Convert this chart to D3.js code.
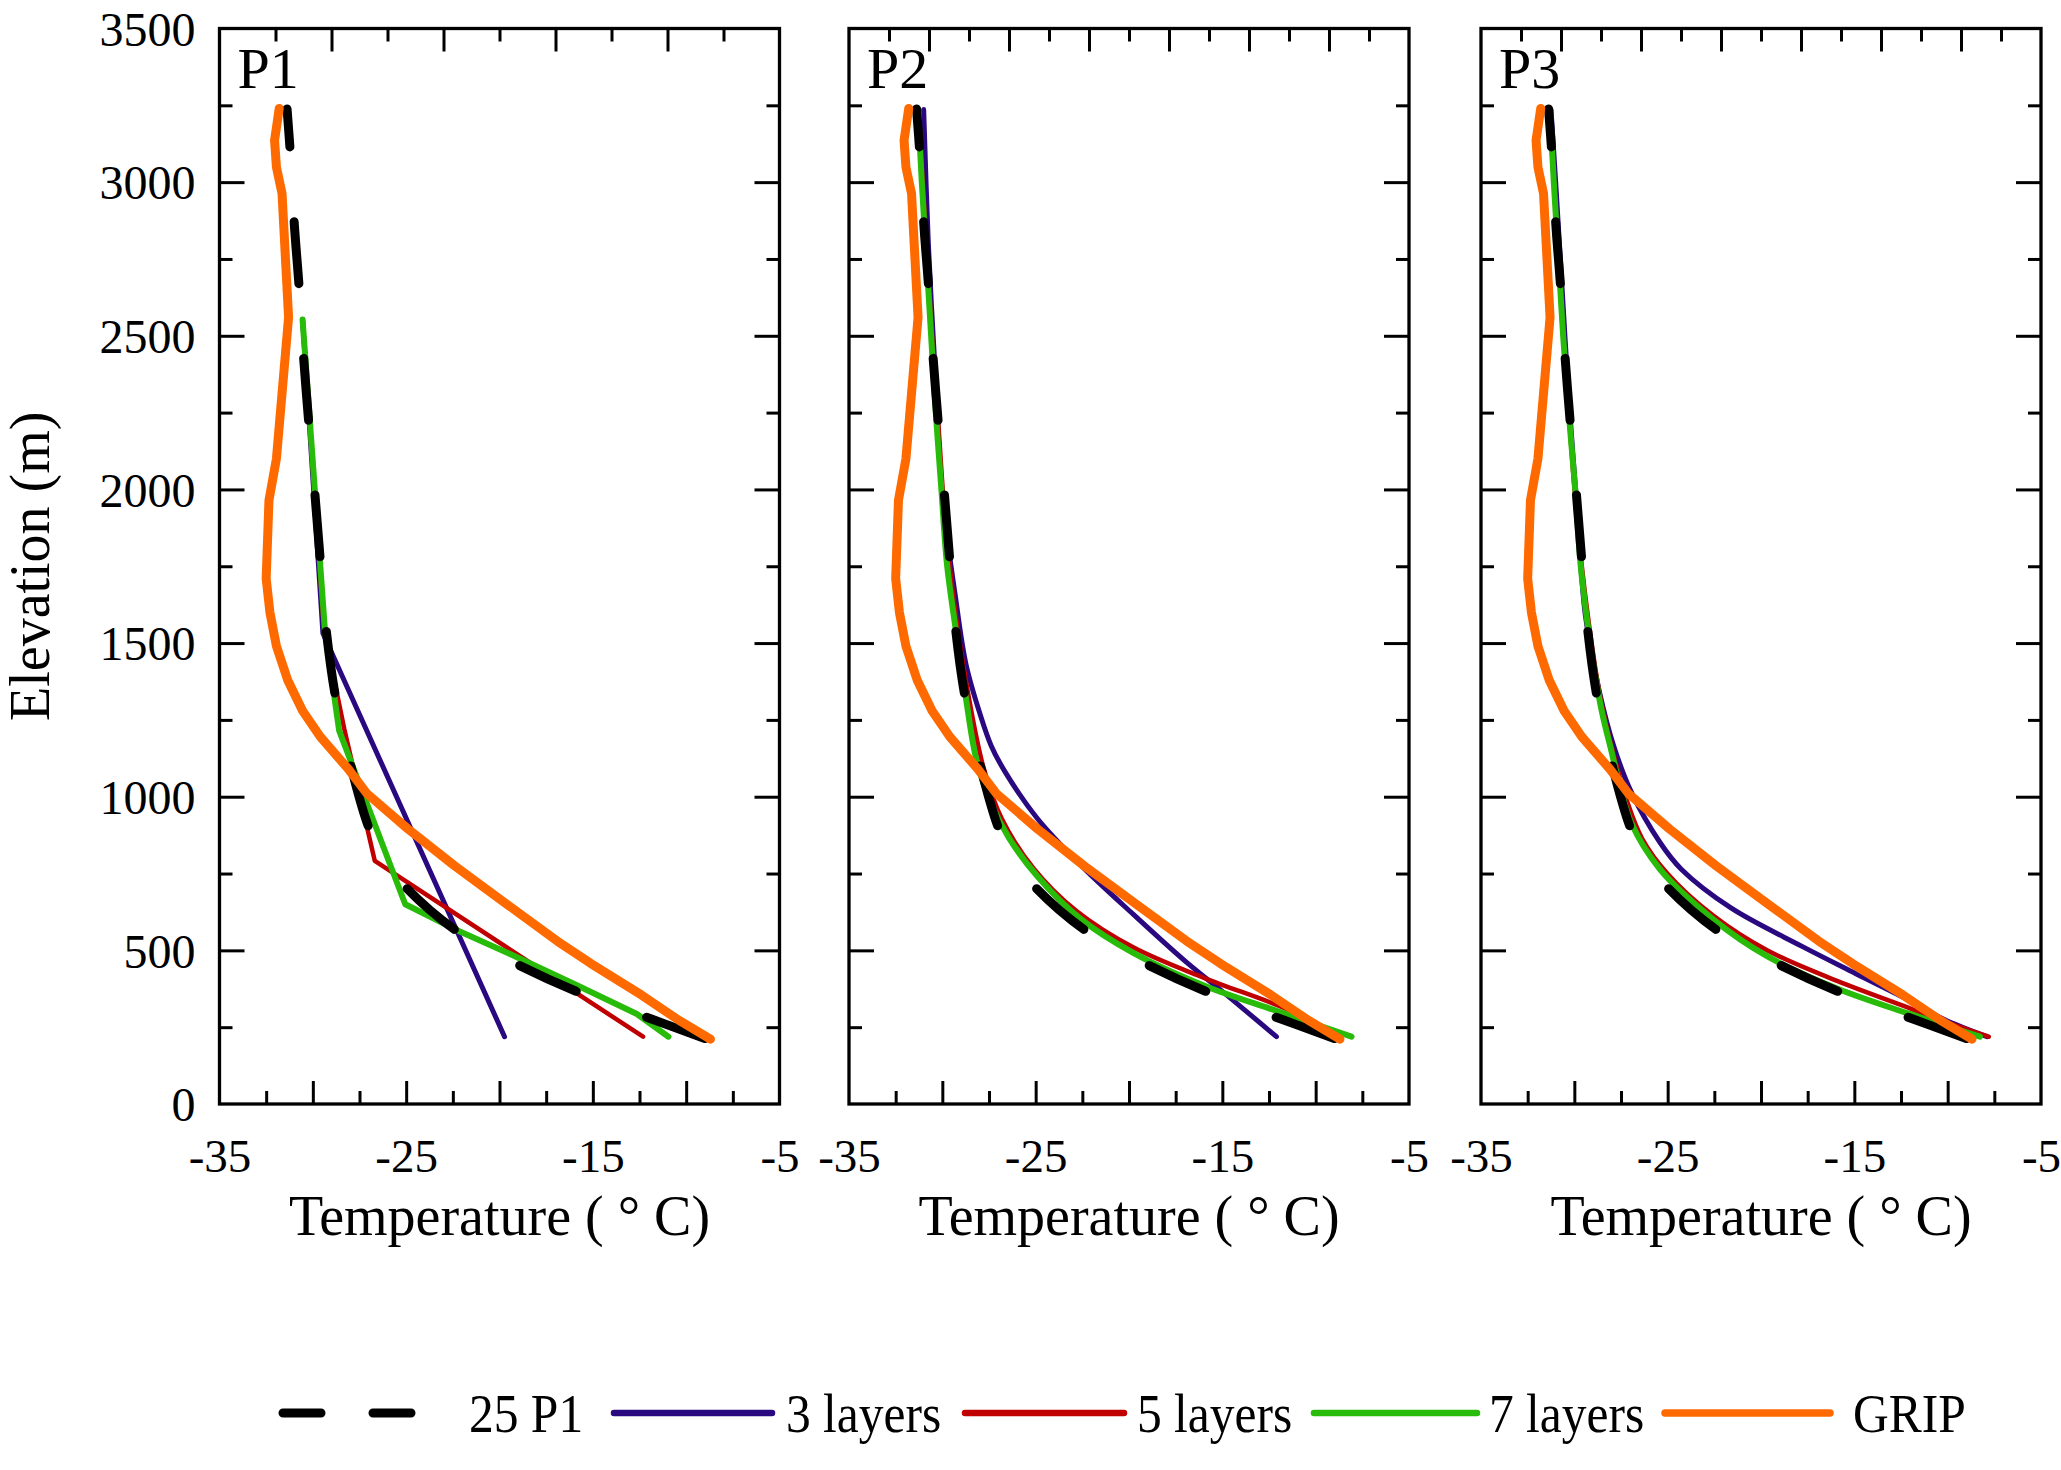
<!DOCTYPE html>
<html>
<head>
<meta charset="utf-8">
<script src="https://cdn.jsdelivr.net/npm/d3@7"></script>
<style>
  body { margin: 0; background: #fff; }
  svg { display: block; }
  text { font-family: "Liberation Serif", "Times New Roman", serif; fill: #000; }
</style>
</head>
<body>
<div id="chart"></div>
<script>
// ---- data (temperature in deg C, elevation in m) ----
const panelNames = ["P1", "P2", "P3"];
const tempTickLabels = [-35, -25, -15, -5];
const elevTickLabels = [0, 500, 1000, 1500, 2000, 2500, 3000, 3500];
const topTickDivisions = [10, 14, 14];
const seriesNames = ["25 P1", "3 layers", "5 layers", "7 layers", "GRIP"];

// reference run, same in every panel
const p25Profile = [
  [-9.0, 213], [-12.6, 293], [-15.9, 367], [-19.3, 462], [-22.3, 563],
  [-25.2, 717], [-26.3, 810], [-27.0, 899], [-28.05, 1121], [-28.78, 1323],
  [-29.3, 1552], [-29.6, 1769], [-29.9, 1993], [-30.2, 2204], [-30.5, 2434],
  [-30.72, 2646], [-31.0, 2870], [-31.2, 3088], [-31.38, 3238]
];

// GRIP observations, same in every panel
const gripProfile = [
  [-8.7, 211], [-10.4, 273], [-12.4, 355], [-15.1, 457], [-16.9, 530],
  [-19.6, 650], [-22.4, 775], [-24.9, 895], [-27.1, 1010], [-28.1, 1090],
  [-29.6, 1195], [-30.55, 1280], [-31.35, 1380], [-31.95, 1490], [-32.3, 1600],
  [-32.5, 1710], [-32.35, 1965], [-31.95, 2100], [-31.3, 2560], [-31.65, 2963],
  [-31.95, 3049], [-32.05, 3136], [-31.8, 3240]
];

const threeLayersP1 = [[-19.73, 219], [-29.46, 1532], [-30.55, 2553]];
const fiveLayersP1 = [[-12.31, 219], [-26.68, 791], [-28.32, 1222], [-29.4, 1540], [-30.55, 2553]];
const sevenLayersP1 = [
  [-10.95, 219], [-12.64, 293], [-15.91, 388], [-19.46, 489], [-22.18, 563],
  [-25.05, 650], [-28.59, 1215], [-29.35, 1540], [-30.55, 2553]
];

const threeLayersP2 = [
  [-12.1, 219], [-14.97, 365], [-16.88, 459], [-19.75, 616], [-22.61, 779],
  [-24.91, 929], [-26.63, 1080], [-27.39, 1167], [-27.97, 1267], [-28.73, 1430],
  [-29.31, 1656], [-29.98, 1969], [-30.4, 2400], [-30.75, 2800], [-31.0, 3236]
];
const fiveLayersP2 = [
  [-8.8, 219], [-11.33, 303], [-15.92, 409], [-19.75, 509], [-22.81, 628],
  [-25.1, 766], [-26.82, 929], [-27.78, 1092], [-28.6, 1330], [-29.3, 1600],
  [-29.85, 1900], [-30.2, 2200], [-30.55, 2500], [-30.85, 2800], [-31.15, 3100], [-31.3, 3236]
];
const sevenLayersP2 = [
  [-8.08, 219], [-12.1, 303], [-15.92, 384], [-19.75, 491], [-22.61, 603],
  [-24.91, 741], [-26.44, 867], [-27.39, 979], [-28.16, 1117], [-28.73, 1318],
  [-29.31, 1556], [-29.75, 1756], [-30.05, 2000], [-30.35, 2250], [-30.6, 2500],
  [-30.85, 2750], [-31.1, 3000], [-31.3, 3236]
];

const threeLayersP3 = [
  [-7.89, 219], [-10.18, 275], [-12.08, 338], [-14.94, 425], [-17.8, 513],
  [-21.61, 638], [-24.27, 764], [-25.41, 851], [-26.94, 1014], [-27.89, 1165],
  [-28.65, 1340], [-29.41, 1591], [-29.89, 1967], [-30.3, 2300], [-30.7, 2700],
  [-31.0, 3000], [-31.25, 3236]
];
const fiveLayersP3 = [
  [-7.8, 219], [-10.18, 269], [-12.08, 313], [-15.89, 400], [-19.7, 501],
  [-22.56, 613], [-25.03, 751], [-26.37, 864], [-27.2, 990], [-27.95, 1150],
  [-28.6, 1320], [-29.3, 1600], [-29.85, 1900], [-30.3, 2250], [-30.65, 2550],
  [-30.95, 2850], [-31.2, 3100], [-31.3, 3236]
];
const sevenLayersP3 = [
  [-8.27, 219], [-12.08, 294], [-15.89, 375], [-19.7, 482], [-22.56, 601],
  [-25.41, 764], [-26.94, 914], [-28.08, 1165], [-28.65, 1315], [-29.6, 1716],
  [-29.95, 2000], [-30.3, 2250], [-30.6, 2500], [-30.85, 2750], [-31.1, 3000], [-31.3, 3236]
];

const threeLayers = [threeLayersP1, threeLayersP2, threeLayersP3];
const fiveLayers = [fiveLayersP1, fiveLayersP2, fiveLayersP3];
const sevenLayers = [sevenLayersP1, sevenLayersP2, sevenLayersP3];

// ---- layout ----
const width = 2061, height = 1470;
const panelLeft = [219.5, 849, 1481];
const panelW = 560;
const plotTop = 28.5, plotBottom = 1104;

const colors = {
  "25 P1": "#000000",
  "3 layers": "#2a0880",
  "5 layers": "#c00000",
  "7 layers": "#28bb0a",
  "GRIP": "#ff6a00"
};
const widths = { "25 P1": 9, "3 layers": 5, "5 layers": 4.5, "7 layers": 6, "GRIP": 9 };

const svg = d3.select("#chart")
  .append("svg")
  .attr("width", width)
  .attr("height", height);

const y = d3.scaleLinear().domain([0, 3500]).range([plotBottom, plotTop]);
const x = d3.scaleLinear().domain([-35, -5]).range([0, panelW]);

const majorT = d3.range(-30, -5, 5);
const minorT = d3.range(-32.5, -5, 5);
const majorE = d3.range(500, 3500, 500);
const minorE = d3.range(250, 3500, 500);

// plain hyphen, no thousands separator
const plain = d => String(d);

function tickAxis(sel, axis) {
  sel.call(axis);
  sel.select(".domain").remove();
  sel.selectAll(".tick line").attr("stroke", "#000").attr("stroke-width", 3);
}

panelNames.forEach((name, i) => {
  const g = svg.append("g").attr("transform", `translate(${panelLeft[i]},0)`);

  // bottom ticks
  g.append("g").attr("transform", `translate(0,${plotBottom})`)
    .call(tickAxis, d3.axisBottom(x).tickValues(majorT).tickSize(-23).tickFormat(""));
  g.append("g").attr("transform", `translate(0,${plotBottom})`)
    .call(tickAxis, d3.axisBottom(x).tickValues(minorT).tickSize(-13).tickFormat(""));

  // bottom labels
  const xl = g.append("g").attr("transform", `translate(0,${plotBottom})`)
    .call(d3.axisBottom(x).tickValues(tempTickLabels).tickSize(0).tickFormat(plain));
  xl.select(".domain").remove();
  xl.selectAll("text").attr("y", 68).attr("dy", null).style("font-size", "47px");

  // top ticks (secondary scale)
  const n = topTickDivisions[i];
  const xt = d3.scaleLinear().domain([0, n]).range([0, panelW]);
  const topVals = d3.range(1, n);
  g.append("g").attr("transform", `translate(0,${plotTop})`)
    .call(tickAxis, d3.axisTop(xt).tickValues(topVals.filter(v => v % 2 === 0)).tickSize(-23).tickFormat(""));
  g.append("g").attr("transform", `translate(0,${plotTop})`)
    .call(tickAxis, d3.axisTop(xt).tickValues(topVals.filter(v => v % 2 === 1)).tickSize(-13).tickFormat(""));

  // left / right ticks
  g.append("g").call(tickAxis, d3.axisLeft(y).tickValues(majorE).tickSize(-25).tickFormat(""));
  g.append("g").call(tickAxis, d3.axisLeft(y).tickValues(minorE).tickSize(-13).tickFormat(""));
  g.append("g").attr("transform", `translate(${panelW},0)`)
    .call(tickAxis, d3.axisRight(y).tickValues(majorE).tickSize(-25).tickFormat(""));
  g.append("g").attr("transform", `translate(${panelW},0)`)
    .call(tickAxis, d3.axisRight(y).tickValues(minorE).tickSize(-13).tickFormat(""));

  if (i === 0) {
    const yl = g.append("g")
      .call(d3.axisLeft(y).tickValues(elevTickLabels).tickSize(0).tickPadding(24).tickFormat(plain));
    yl.select(".domain").remove();
    yl.selectAll("text").attr("dy", "0.35em").style("font-size", "48px");
  }

  const line = d3.line().x(d => x(d[0])).y(d => y(d[1]));
  const smooth = d3.line().x(d => x(d[0])).y(d => y(d[1])).curve(d3.curveCatmullRom.alpha(0.5));
  const modelLine = i === 0 ? line : smooth;

  const series = [
    ["3 layers", threeLayers[i], modelLine],
    ["5 layers", fiveLayers[i], modelLine],
    ["7 layers", sevenLayers[i], modelLine]
  ];
  series.forEach(([key, data, gen]) => {
    g.append("path")
      .datum(data)
      .attr("d", gen)
      .attr("fill", "none")
      .attr("stroke", colors[key])
      .attr("stroke-width", widths[key])
      .attr("stroke-linejoin", "round")
      .attr("stroke-linecap", "round");
  });

  g.append("path")
    .datum(p25Profile)
    .attr("d", smooth)
    .attr("fill", "none")
    .attr("stroke", colors["25 P1"])
    .attr("stroke-width", widths["25 P1"])
    .attr("stroke-dasharray", "62,75")
    .attr("stroke-linecap", "round");

  g.append("path")
    .datum(gripProfile)
    .attr("d", line)
    .attr("fill", "none")
    .attr("stroke", colors["GRIP"])
    .attr("stroke-width", widths["GRIP"])
    .attr("stroke-linejoin", "round")
    .attr("stroke-linecap", "round");

  // frame
  g.append("rect")
    .attr("x", 0).attr("y", plotTop)
    .attr("width", panelW).attr("height", plotBottom - plotTop)
    .attr("fill", "none").attr("stroke", "#000").attr("stroke-width", 3.3);

  g.append("text")
    .attr("x", 18).attr("y", 88)
    .style("font-size", "58px")
    .text(name);

  g.append("text")
    .attr("x", panelW / 2).attr("y", 1235)
    .attr("text-anchor", "middle")
    .style("font-size", "56px")
    .text("Temperature ( \u00B0 C)");
});

svg.append("text")
  .attr("transform", `translate(49,${(plotTop + plotBottom) / 2}) rotate(-90)`)
  .attr("text-anchor", "middle")
  .style("font-size", "56px")
  .text("Elevation (m)");

// ---- legend ----
const legendY = 1413;
const legendLines = [[283, 414], [614, 772], [965, 1124], [1314, 1477], [1665, 1830]];
const legendText = [469, 786, 1137, 1489, 1853];
const legend = svg.append("g");
seriesNames.forEach((key, k) => {
  const [x0, x1] = legendLines[k];
  const ln = legend.append("line")
    .attr("x1", x0).attr("x2", x1)
    .attr("y1", legendY).attr("y2", legendY)
    .attr("stroke", colors[key])
    .attr("stroke-linecap", "round");
  if (key === "25 P1") {
    ln.attr("stroke-width", 9).attr("stroke-dasharray", "38,52");
  } else {
    ln.attr("stroke-width", key === "GRIP" ? 7.5 : 6.5);
  }
  legend.append("text")
    .attr("transform", `translate(${legendText[k]},1432) scale(0.9,1)`)
    .style("font-size", "55px")
    .text(key);
});
</script>
</body>
</html>
